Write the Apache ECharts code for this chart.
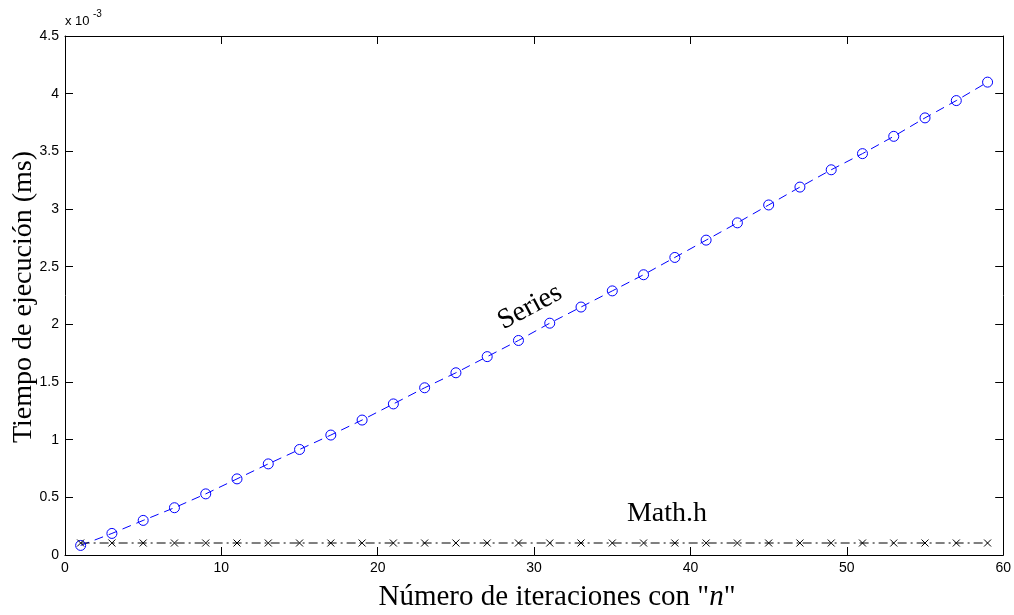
<!DOCTYPE html>
<html>
<head>
<meta charset="utf-8">
<script src="https://cdn.jsdelivr.net/npm/echarts@6/dist/echarts.min.js"></script>
<style>html,body{margin:0;padding:0;background:#fff}#c{width:1014px;height:615px}</style>
</head>
<body>
<div id="c"></div>
<script>
// iterations n
const iterations = [1,3,5,7,9,11,13,15,17,19,21,23,25,27,29,31,33,35,37,39,41,43,45,47,49,51,53,55,57,59];
// execution time, in units of 1e-3 ms
const seriesTimes = [0.083,0.187,0.30,0.41,0.53,0.66,0.79,0.915,1.04,1.17,1.31,1.45,1.58,1.72,1.86,2.01,2.15,2.29,2.43,2.58,2.73,2.88,3.035,3.19,3.34,3.48,3.63,3.79,3.94,4.10];
const mathhTimes = [0.104,0.104,0.104,0.104,0.104,0.104,0.104,0.104,0.104,0.104,0.104,0.104,0.104,0.104,0.104,0.104,0.104,0.104,0.104,0.104,0.104,0.104,0.104,0.104,0.104,0.104,0.104,0.104,0.104,0.104];
const xTicks = [0,10,20,30,40,50,60];
const yTicks = [0,0.5,1,1.5,2,2.5,3,3.5,4,4.5];

const chart = echarts.init(document.getElementById('c'), null, {renderer:'canvas'});
const sans = 'Liberation Sans, Arial, sans-serif';
const serif = 'Liberation Serif, Times New Roman, serif';
const tick = () => ({show:true, inside:true, length:8, lineStyle:{color:'#000', width:1}});
const line = () => ({show:true, onZero:false, lineStyle:{color:'#000', width:1}});

chart.setOption({
  animation:false,
  backgroundColor:'#fff',
  grid:{left:65, right:8, top:36, bottom:60, show:false},
  xAxis:[
    {type:'value', min:xTicks[0], max:xTicks[xTicks.length-1], interval:10, position:'bottom',
     axisLine:line(), axisTick:tick(), splitLine:{show:false},
     axisLabel:{color:'#000', fontFamily:sans, fontSize:14, margin:6}},
    {type:'value', min:xTicks[0], max:xTicks[xTicks.length-1], interval:10, position:'top',
     axisLine:line(), axisTick:tick(), splitLine:{show:false}, axisLabel:{show:false}}
  ],
  yAxis:[
    {type:'value', min:yTicks[0], max:yTicks[yTicks.length-1], interval:0.5, position:'left',
     axisLine:line(), axisTick:tick(), splitLine:{show:false},
     axisLabel:{color:'#000', fontFamily:sans, fontSize:14, margin:6}},
    {type:'value', min:yTicks[0], max:yTicks[yTicks.length-1], interval:0.5, position:'right',
     axisLine:line(), axisTick:tick(), splitLine:{show:false}, axisLabel:{show:false}}
  ],
  series:[
    {name:'Series', type:'line', xAxisIndex:0, yAxisIndex:0,
     data: iterations.map((x,i)=>[x, seriesTimes[i]]),
     symbol:'circle', symbolSize:10, showSymbol:true,
     itemStyle:{color:'rgba(0,0,0,0)', borderColor:'#0000ff', borderWidth:1},
     lineStyle:{color:'#0000ff', width:1, type:[9,6]}},
    {name:'Math.h', type:'line', xAxisIndex:0, yAxisIndex:0,
     data: iterations.map((x,i)=>[x, mathhTimes[i]]),
     symbol:'path://M0,0L10,10M10,0L0,10', symbolSize:7, showSymbol:true,
     itemStyle:{color:'rgba(0,0,0,0)', borderColor:'#000', borderWidth:1},
     lineStyle:{color:'#000', width:1, type:[9,4,2,4]}}
  ],
  graphic:[
    {type:'text', left:65, top:15, style:{text:'x 10', font:'13px '+sans, fill:'#000'}},
    {type:'text', left:93, top:9, style:{text:'-3', font:'10px '+sans, fill:'#000'}},
    {type:'text', x:530, y:307, rotation:28*Math.PI/180, style:{text:'Series', font:'28px '+serif, fill:'#000', align:'center', verticalAlign:'middle'}},
    {type:'text', x:667, y:514, style:{text:'Math.h', font:'28px '+serif, fill:'#000', align:'center', verticalAlign:'middle'}},
    {type:'text', x:24, y:297, rotation:Math.PI/2, style:{text:'Tiempo de ejecución (ms)', font:'28px '+serif, fill:'#000', align:'center', verticalAlign:'middle'}},
    {type:'text', x:557, y:597, style:{
      text:'{a|Número de iteraciones con "}{b|n}{a|"}',
      align:'center', verticalAlign:'middle',
      rich:{a:{fontFamily:serif, fontSize:29, color:'#000'}, b:{fontFamily:serif, fontStyle:'italic', fontSize:29, color:'#000'}}}}
  ]
});
</script>
</body>
</html>
